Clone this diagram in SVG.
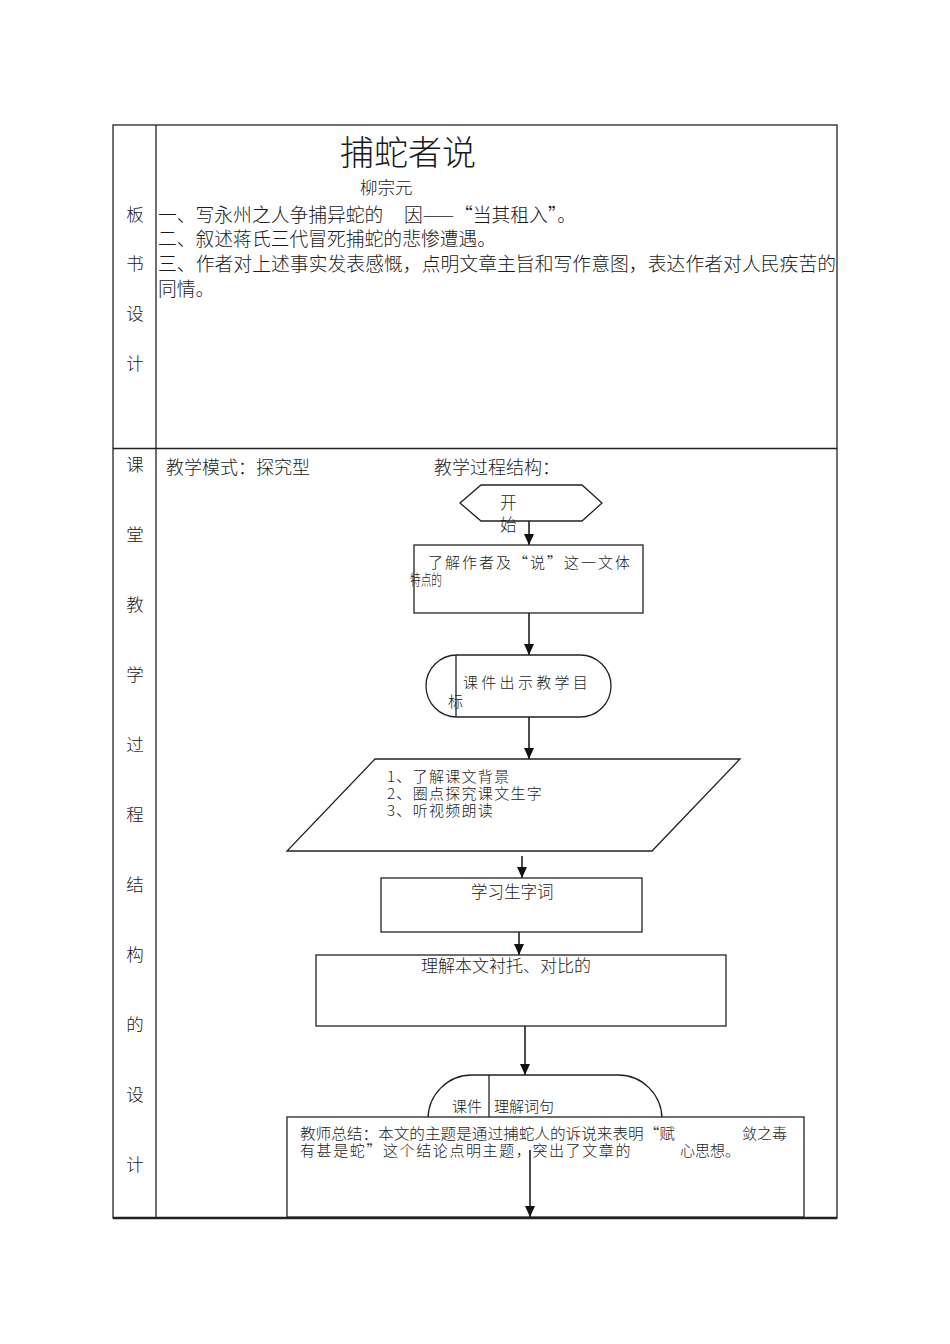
<svg xmlns="http://www.w3.org/2000/svg" width="950" height="1344" viewBox="0 0 950 1344">
<style>
text{font-family:"Noto Sans CJK SC","Noto Sans",sans-serif;fill:#1a1a1a;dominant-baseline:central;font-weight:300}
.tb{stroke:#222;stroke-width:1.3;fill:none}
.sh{stroke:#222;stroke-width:1.3;fill:#fff}
.cn{stroke:#111;stroke-width:1.5;fill:none}
.lc{font-size:17.5px;text-anchor:middle}
.bd{font-size:18.8px}
.fl{font-size:15px}
.pl{font-size:15px;letter-spacing:1.3px}
</style>
<defs>
<marker id="ah" markerUnits="userSpaceOnUse" markerWidth="11" markerHeight="10" refX="11" refY="5" orient="auto" viewBox="0 0 11 10">
<path d="M0,0 L11,5 L0,10 Z" fill="#111"/>
</marker>
</defs>
<rect width="950" height="1344" fill="#fff"/>
<g id="table">
<rect class="tb" x="113" y="125" width="724" height="1093"/>
<line class="tb" x1="156" y1="125" x2="156" y2="1218"/>
<line class="tb" x1="113" y1="448.5" x2="837" y2="448.5"/>
<line stroke="#222" stroke-width="2.5" x1="113" y1="1218" x2="837" y2="1218"/>
</g>
<g id="left-col-top">
<text class="lc" x="135" y="213">板</text>
<text class="lc" x="135" y="262">书</text>
<text class="lc" x="135" y="312">设</text>
<text class="lc" x="135" y="362">计</text>
</g>
<g id="left-col-bottom">
<text class="lc" x="135" y="463">课</text>
<text class="lc" x="135" y="533">堂</text>
<text class="lc" x="135" y="603">教</text>
<text class="lc" x="135" y="673">学</text>
<text class="lc" x="135" y="743">过</text>
<text class="lc" x="135" y="813">程</text>
<text class="lc" x="135" y="883">结</text>
<text class="lc" x="135" y="953">构</text>
<text class="lc" x="135" y="1023">的</text>
<text class="lc" x="135" y="1093">设</text>
<text class="lc" x="135" y="1163">计</text>
</g>
<g id="board">
<text x="340" y="150" font-size="34">捕蛇者说</text>
<text x="360" y="186" font-size="17.5">柳宗元</text>
<text class="bd" x="158" y="213">一、写永州之人争捕异蛇的</text>
<text class="bd" x="404" y="213">因——“当其租入”。</text>
<text class="bd" x="158" y="237">二、叙述蒋氏三代冒死捕蛇的悲惨遭遇。</text>
<text class="bd" x="158" y="262" textLength="678" lengthAdjust="spacing">三、作者对上述事实发表感慨，点明文章主旨和写作意图，表达作者对人民疾苦的</text>
<text class="bd" x="158" y="287">同情。</text>
</g>
<g id="headers">
<text x="166" y="466" font-size="18">教学模式：探究型</text>
<text x="434" y="466" font-size="18">教学过程结构：</text>
</g>
<g id="connectors">
<line class="cn" x1="529" y1="521" x2="529" y2="545" marker-end="url(#ah)"/>
<line class="cn" x1="529" y1="613" x2="529" y2="655" marker-end="url(#ah)"/>
<line class="cn" x1="529" y1="717" x2="529" y2="759" marker-end="url(#ah)"/>
<line class="cn" x1="522" y1="856" x2="522" y2="878" marker-end="url(#ah)"/>
<line class="cn" x1="519" y1="932" x2="519" y2="955" marker-end="url(#ah)"/>
<line class="cn" x1="525" y1="1026" x2="525" y2="1075" marker-end="url(#ah)"/>
</g>
<g id="n-start">
<polygon class="sh" points="460,503 481,485 582,485 602,503 582,521 481,521"/>
<text x="500" y="502" font-size="16.5">开</text>
<text x="500" y="524" font-size="16.5">始</text>
</g>
<g id="n-author">
<rect class="sh" x="414" y="545" width="229" height="68"/>
<text class="fl" x="428" y="561" letter-spacing="2">了解作者及“说”这一文体</text>
<text class="fl" x="410" y="578" textLength="32" lengthAdjust="spacingAndGlyphs">特点的</text>
</g>
<g id="n-goal">
<rect class="sh" x="426" y="655" width="185" height="62" rx="31" ry="31"/>
<line class="tb" x1="456" y1="655" x2="456" y2="717"/>
<text class="fl" x="463" y="681" letter-spacing="3.3">课件出示教学目</text>
<text class="fl" x="448" y="700">标</text>
</g>
<g id="n-tasks">
<polygon class="sh" points="375,759 740,759 652,851 287,851"/>
<text class="pl" x="387" y="775">1、了解课文背景</text>
<text class="pl" x="387" y="792">2、圈点探究课文生字</text>
<text class="pl" x="387" y="809">3、听视频朗读</text>
</g>
<g id="n-words">
<rect class="sh" x="381" y="878" width="261" height="54"/>
<text x="471" y="891" font-size="16.5">学习生字词</text>
</g>
<g id="n-contrast">
<rect class="sh" x="316" y="955" width="410" height="71"/>
<text x="421" y="965" font-size="16.5" textLength="170" lengthAdjust="spacingAndGlyphs">理解本文衬托、对比的</text>
</g>
<g id="n-sentences">
<rect class="sh" x="428" y="1075" width="234" height="90" rx="44" ry="44"/>
<line class="tb" x1="489" y1="1075" x2="489" y2="1117"/>
<text class="fl" x="452" y="1105">课件</text>
<text class="fl" x="494" y="1105">理解词句</text>
</g>
<g id="n-summary">
<rect class="sh" x="287" y="1117" width="517" height="100"/>
<text class="fl" x="300" y="1132" textLength="375" lengthAdjust="spacingAndGlyphs">教师总结：本文的主题是通过捕蛇人的诉说来表明“赋</text>
<text class="fl" x="742" y="1132">敛之毒</text>
<text class="fl" x="300" y="1149" letter-spacing="1.6">有甚是蛇”这个结论点明主题，突出了文章的</text>
<text class="fl" x="680" y="1149">心思想。</text>
</g>
<g id="connectors-2">
<line class="cn" x1="530" y1="1150" x2="530" y2="1217" marker-end="url(#ah)"/>
</g>
</svg>
